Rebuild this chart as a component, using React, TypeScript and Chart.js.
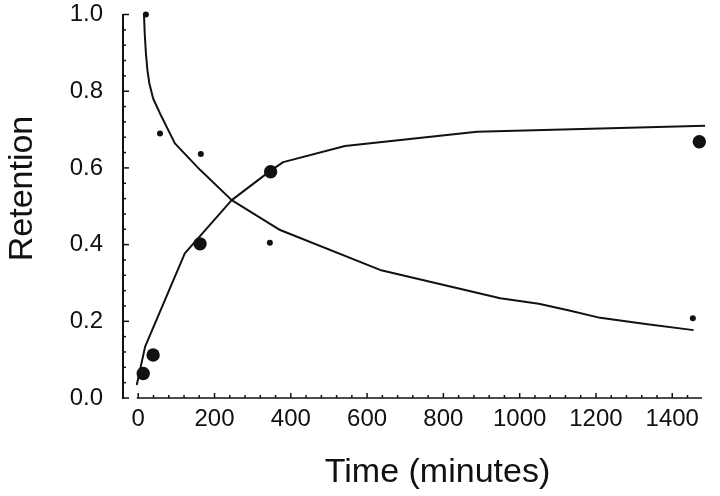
import React, { useEffect, useRef } from 'react';
import { Chart, registerables } from 'chart.js';

Chart.register(...registerables);

// Measured points (large dots, rising)
const largeDotTimes = [13, 39, 162, 347, 1471];
const largeDotRetention = [0.064, 0.112, 0.402, 0.59, 0.668];

// Measured points (small dots, falling)
const smallDotTimes = [20, 57, 164, 345, 1454];
const smallDotRetention = [1.0, 0.69, 0.636, 0.405, 0.208];

// Fitted rising curve
const risingFitTimes = [-4, 18, 122, 245, 347, 380, 542, 888, 1486];
const risingFitRetention = [0.034, 0.134, 0.377, 0.516, 0.593, 0.615, 0.657, 0.694, 0.71];

// Fitted falling curve
const fallingFitTimes = [15, 17, 20, 24, 29, 39, 57, 96, 162, 245, 372, 634, 949, 1050, 1130, 1211, 1330, 1456];
const fallingFitRetention = [1.0, 0.95, 0.9, 0.855, 0.821, 0.781, 0.742, 0.664, 0.595, 0.516, 0.438, 0.334, 0.26, 0.246, 0.228, 0.209, 0.193, 0.177];

// Axes
const xTickValues = [0, 200, 400, 600, 800, 1000, 1200, 1400];
const xTickLabels = ['0', '200', '400', '600', '800', '1000', '1200', '1400'];
const yTickValues = [0, 0.2, 0.4, 0.6, 0.8, 1.0];
const yTickLabels = ['0.0', '0.2', '0.4', '0.6', '0.8', '1.0'];
const xMinorStep = 40;
const yMinorStep = 0.04;
const xMin = -40;
const xMax = 1478;
const xTitle = 'Time (minutes)';
const yTitle = 'Retention';

const INK = '#111';

const toPoints = (xs: number[], ys: number[]) => xs.map((x, i) => ({ x, y: ys[i] }));

const offsetAxesPlugin = {
  id: 'offsetAxes',
  afterLayout(chart: any) {
    // shift title anchors (titles are centered on scale extents)
    chart.scales.y.top -= 35.5;
    chart.scales.x.left += 50;
  },
  afterDraw(chart: any) {
    const ctx = chart.ctx;
    const xs = chart.scales.x;
    const ys = chart.scales.y;
    const area = chart.chartArea;
    ctx.save();
    ctx.strokeStyle = INK;
    // y axis line
    const yAxisX = area.left;
    ctx.lineWidth = 2;
    ctx.beginPath();
    ctx.moveTo(yAxisX, ys.getPixelForValue(1.0) - 0.5);
    ctx.lineTo(yAxisX, ys.getPixelForValue(0) + 1);
    ctx.stroke();
    // y ticks
    ctx.lineWidth = 1.5;
    for (let v = 0; v <= 1.0001; v += yMinorStep) {
      const isMajor = yTickValues.some((t) => Math.abs(t - v) < 1e-6);
      const py = ys.getPixelForValue(v);
      ctx.beginPath();
      ctx.moveTo(yAxisX, py);
      ctx.lineTo(yAxisX + (isMajor ? 6 : 3), py);
      ctx.stroke();
    }
    // x axis line
    const xAxisY = ys.getPixelForValue(0);
    ctx.lineWidth = 1.5;
    ctx.beginPath();
    ctx.moveTo(xs.getPixelForValue(-4), xAxisY);
    ctx.lineTo(area.right, xAxisY);
    ctx.stroke();
    // x ticks
    for (let v = 0; v <= 1440; v += xMinorStep) {
      const isMajor = xTickValues.includes(v);
      const px = xs.getPixelForValue(v);
      ctx.beginPath();
      ctx.moveTo(px, xAxisY);
      ctx.lineTo(px, xAxisY - (isMajor ? 5 : 3));
      ctx.stroke();
    }
    ctx.restore();
  },
};

export default function App() {
  const canvasRef = useRef<HTMLCanvasElement | null>(null);

  useEffect(() => {
    document.body.style.margin = '0';
    const canvas = canvasRef.current;
    if (!canvas) return;
    Chart.defaults.font.family = "'Liberation Sans', Arial, Helvetica, sans-serif";
    Chart.defaults.color = INK;

    const lineStyle = {
      showLine: true,
      borderColor: INK,
      borderWidth: 2,
      pointRadius: 0,
      tension: 0,
      borderJoinStyle: 'round',
      clip: false,
    };

    const chart = new Chart(canvas, {
      type: 'scatter',
      data: {
        datasets: [
          { label: 'Rising fit', data: toPoints(risingFitTimes, risingFitRetention), ...lineStyle } as any,
          { label: 'Falling fit', data: toPoints(fallingFitTimes, fallingFitRetention), ...lineStyle } as any,
          {
            label: 'Large dots',
            data: toPoints(largeDotTimes, largeDotRetention),
            showLine: false,
            pointRadius: 6.7,
            pointBackgroundColor: INK,
            pointBorderColor: INK,
            pointBorderWidth: 0,
            clip: false,
          } as any,
          {
            label: 'Small dots',
            data: toPoints(smallDotTimes, smallDotRetention),
            showLine: false,
            pointRadius: 3,
            pointBackgroundColor: INK,
            pointBorderColor: INK,
            pointBorderWidth: 0,
            clip: false,
          } as any,
        ],
      },
      options: {
        responsive: false,
        animation: false,
        devicePixelRatio: 1,
        events: [],
        layout: { padding: { top: 14.5, right: 18, bottom: 0, left: 0 }, autoPadding: false },
        plugins: {
          legend: { display: false },
          tooltip: { enabled: false },
        },
        scales: {
          x: {
            type: 'linear',
            min: xMin,
            max: xMax,
            grid: { display: false, drawTicks: false },
            border: { display: false },
            afterBuildTicks: (scale: any) => {
              scale.ticks = xTickValues.map((v) => ({ value: v }));
            },
            afterFit: (scale: any) => {
              scale.height = 98;
              scale.paddingLeft = 0;
              scale.paddingRight = 0;
            },
            ticks: {
              autoSkip: false,
              maxRotation: 0,
              padding: 7,
              font: { size: 24 },
              color: INK,
              callback: (_v: any, i: number) => xTickLabels[i],
            },
            title: {
              display: true,
              text: xTitle,
              font: { size: 34 },
              color: INK,
              padding: { top: 0, bottom: 3 },
            },
          },
          y: {
            type: 'linear',
            min: 0,
            max: 1,
            grid: { display: false, drawTicks: false },
            border: { display: false },
            afterBuildTicks: (scale: any) => {
              scale.ticks = yTickValues.map((v) => ({ value: v }));
            },
            afterFit: (scale: any) => {
              scale.width = 123;
              scale.paddingTop = 0;
              scale.paddingBottom = 0;
            },
            ticks: {
              autoSkip: false,
              padding: 20,
              font: { size: 24 },
              color: INK,
              callback: (_v: any, i: number) => yTickLabels[i],
            },
            title: {
              display: true,
              text: yTitle,
              font: { size: 34 },
              color: INK,
              padding: { top: 2, bottom: 0 },
            },
          },
        },
      } as any,
      plugins: [offsetAxesPlugin],
    });

    return () => {
      chart.destroy();
    };
  }, []);

  return (
    <div style={{ width: 720, height: 496 }}>
      <canvas ref={canvasRef} width={720} height={496} style={{ display: 'block' }} />
    </div>
  );
}
